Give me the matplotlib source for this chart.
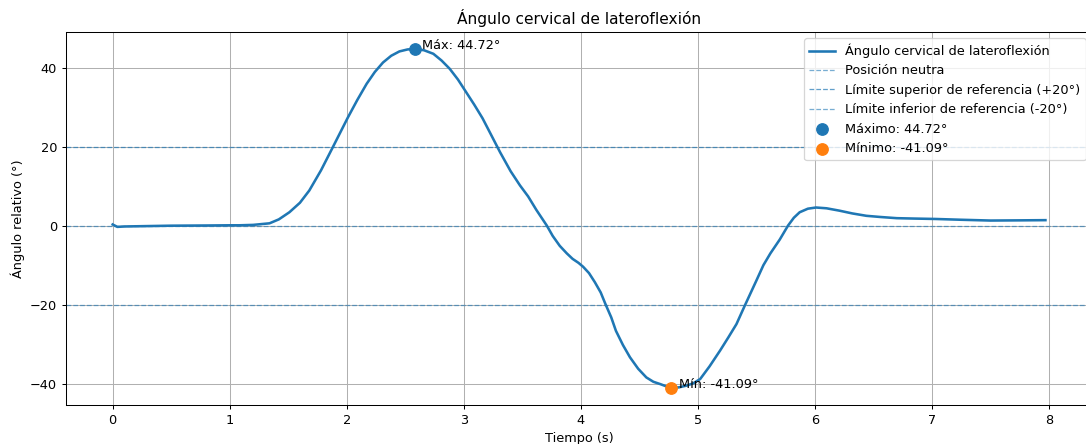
import numpy as np
import matplotlib.pyplot as plt

# tiempo (s) y ángulo (°)
t = [0.0, 0.04, 0.1, 0.3, 0.5, 0.8, 1.0, 1.085, 1.2, 1.34, 1.42, 1.51, 1.6, 1.68, 1.78, 1.88,
     2.01, 2.09, 2.17, 2.24, 2.31, 2.38, 2.45, 2.52, 2.58, 2.66, 2.74, 2.81, 2.88, 2.95,
     3.02, 3.09, 3.16, 3.23, 3.31, 3.40, 3.48, 3.55, 3.62, 3.71, 3.76, 3.82, 3.88, 3.93,
     3.98, 4.02, 4.07, 4.12, 4.17, 4.21, 4.26, 4.30, 4.36, 4.42, 4.49, 4.56, 4.62, 4.68, 4.77,
     4.84, 4.90, 4.96, 5.02, 5.10, 5.19, 5.26, 5.33, 5.40, 5.50, 5.56, 5.62, 5.70, 5.77, 5.82,
     5.87, 5.94, 6.01, 6.10, 6.21, 6.32, 6.44, 6.56, 6.70, 6.85, 7.03, 7.25, 7.50, 7.75, 7.97]
ang = [0.3, -0.3, -0.2, -0.1, 0.0, 0.05, 0.1, 0.1, 0.2, 0.6, 1.6, 3.4, 5.8, 8.9, 14.0, 19.8,
       27.4, 31.8, 35.9, 38.9, 41.3, 43.0, 44.1, 44.6, 44.72, 44.4, 43.5, 41.8, 39.7, 37.0,
       33.8, 30.6, 27.2, 23.2, 18.6, 13.8, 10.2, 7.4, 4.0, 0.0, -2.6, -5.1, -7.0, -8.4,
       -9.4, -10.4, -12.0, -14.3, -16.9, -19.8, -23.2, -26.6, -30.2, -33.3, -36.2, -38.4, -39.5, -40.1, -41.09,
       -40.9, -40.5, -39.9, -38.8, -35.6, -31.6, -28.3, -24.9, -20.3, -13.9, -10.0, -7.0, -3.5, 0.0, 2.0,
       3.4, 4.3, 4.6, 4.4, 3.8, 3.1, 2.5, 2.2, 1.9, 1.8, 1.7, 1.5, 1.3, 1.35, 1.4]

titulo = 'Ángulo cervical de lateroflexión'
ref_sup = 20
ref_inf = -20

t = np.array(t)
ang = np.array(ang)
i_max = np.argmax(ang)
i_min = np.argmin(ang)

dpi = 92.4
fig = plt.figure(figsize=(1086 / dpi, 444 / dpi), dpi=dpi)
ax = fig.add_axes([0.0608, 0.0878, 0.9448, 0.8401])

ax.plot(t, ang, color='C0', linewidth=2, label=titulo)
ax.axhline(0, color='C0', linestyle='--', linewidth=1, alpha=0.6, label='Posición neutra')
ax.axhline(ref_sup, color='C0', linestyle='--', linewidth=1, alpha=0.7,
           label='Límite superior de referencia (+20°)')
ax.axhline(ref_inf, color='C0', linestyle='--', linewidth=1, alpha=0.6,
           label='Límite inferior de referencia (-20°)')
ax.scatter(t[i_max], ang[i_max], color='C0', s=80, zorder=5,
           label=f'Máximo: {ang[i_max]:.2f}°')
ax.scatter(t[i_min], ang[i_min], color='C1', s=80, zorder=5,
           label=f'Mínimo: {ang[i_min]:.2f}°')
ax.annotate(f'Máx: {ang[i_max]:.2f}°', (t[i_max], ang[i_max]),
            xytext=(6, 0), textcoords='offset points')
ax.annotate(f'Mín: {ang[i_min]:.2f}°', (t[i_min], ang[i_min]),
            xytext=(6, 0), textcoords='offset points')

ax.set_title(titulo)
ax.set_xlabel('Tiempo (s)')
ax.set_ylabel('Ángulo relativo (°)')
ax.grid(True)
ax.legend(loc='upper right')

fig.savefig('out.png', dpi=dpi)
